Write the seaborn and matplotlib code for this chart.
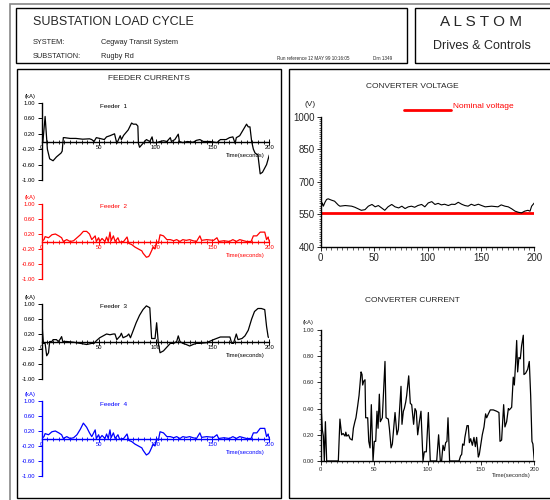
import numpy as np
import pandas as pd
import matplotlib
matplotlib.use("Agg")
import matplotlib.pyplot as plt
from matplotlib.patches import Rectangle
from matplotlib.lines import Line2D
import seaborn as sns

# ---------------- data ----------------
feeder1_t = [0, 1, 3, 5, 7, 10, 13, 17, 18, 19,
             20, 25, 30, 36, 42, 44, 46, 48, 51, 55,
             57, 60, 64, 66, 69, 70, 72, 76, 79, 80.5,
             83, 84.5, 85, 86, 89, 92, 95, 97, 98, 101,
             104, 107, 110, 113, 114, 117, 120, 121, 124, 128,
             133, 136, 139, 142, 148, 154, 157, 162, 165, 168,
             170, 171, 174, 177, 180, 181.5, 183, 184.5, 186, 187.5,
             190, 192, 194, 197.6, 200]
feeder1_v = [0.0, -0.02, 0.65, -0.2, -0.45, -0.5, -0.4, -0.3, -0.25, 0.1,
             0.1, 0.08, 0.08, 0.06, 0.07, 0.05, 0.0, 0.1, 0.08, 0.05,
             0.12, 0.15, 0.2, -0.05, 0.15, 0.05, 0.16, 0.3, 0.48, 0.45,
             0.45, 0.4, -0.05, -0.15, -0.05, 0.05, 0.0, 0.12, -0.03, -0.03,
             0.0, 0.02, 0.0, 0.1, 0.0, 0.05, 0.19, 0.0, -0.03, 0.0,
             -0.02, 0.03, 0.05, 0.0, 0.0, -0.03, 0.05, 0.05, 0.1, 0.12,
             -0.05, 0.1, 0.15, 0.3, 0.45, 0.38, 0.38, 0.0, -0.2, -0.3,
             -0.35, -0.84, -0.8, -0.6, -0.35]

feeder2_t = [0, 2, 3, 6, 9, 12, 15, 17.5, 19, 22,
             25, 28, 31, 34, 36.6, 39.5, 42, 44, 47, 48,
             50, 51, 53, 55.6, 57, 58.5, 60, 61, 63, 64.5,
             67, 68.5, 72, 75, 76.5, 79, 82, 85, 88, 89,
             92, 94, 95, 96.5, 98, 99.5, 101, 102.5, 104, 107,
             110, 113, 116, 118.6, 121.5, 124, 127, 130, 133, 136,
             139, 140.5, 145, 151, 154, 155.5, 160, 165, 168, 171,
             174, 180, 184, 186, 189, 192, 196, 197.6, 199, 200]
feeder2_v = [0.0, 0.05, 0.13, 0.1, 0.18, 0.2, 0.15, 0.1, 0.0, 0.05,
             0.0, 0.02, 0.1, 0.18, 0.27, 0.27, 0.2, 0.05, 0.15, 0.0,
             0.1, 0.0, 0.08, 0.0, 0.12, 0.0, 0.25, 0.02, 0.15, 0.0,
             0.1, -0.02, 0.0, 0.12, -0.05, -0.08, -0.15, -0.2, -0.25, -0.31,
             -0.42, -0.4, -0.35, -0.25, -0.15, -0.2, 0.0, -0.05, 0.18, 0.15,
             0.05, 0.05, 0.02, 0.05, 0.0, 0.05, 0.03, 0.05, 0.02, 0.0,
             0.15, 0.03, 0.05, 0.03, 0.1, 0.0, 0.02, 0.0, 0.05, 0.0,
             0.05, 0.0, 0.0, 0.15, 0.15, 0.25, 0.25, 0.05, 0.12, 0.0]

feeder3_t = [0, 1.5, 3, 4.4, 6, 7, 9, 10, 13, 14.5,
             16, 17.5, 18.5, 22, 28, 34, 39.5, 44, 46, 48,
             51, 54, 57, 60, 63, 64.4, 66, 69, 70, 71.5,
             75, 76.5, 78, 80.5, 83, 86, 89, 92, 95, 96.6,
             99.6, 101, 102.5, 104, 107, 110, 113, 116, 118.6, 120,
             121.5, 124, 127, 130, 133, 136, 139, 145, 151, 157,
             162.5, 165.4, 167, 168.5, 170, 171, 172.5, 176, 178.6, 181.5,
             184.5, 187, 190, 193, 196, 197.6, 199, 200]
feeder3_v = [0.58, -0.05, -0.05, -0.38, -0.3, 0.0, 0.0, 0.05, 0.05, 0.0,
             0.05, 0.13, 0.0, 0.0, -0.02, -0.05, -0.08, -0.05, -0.05, 0.02,
             0.1, 0.15, 0.2, 0.18, 0.2, 0.2, 0.05, 0.15, 0.22, 0.1,
             0.15, 0.2, 0.1, 0.3, 0.5, 0.7, 0.85, 0.95, 0.9, 0.08,
             0.08, 0.5, -0.05, -0.3, -0.25, -0.15, -0.05, -0.05, 0.0, 0.15,
             0.0, -0.05, -0.08, -0.12, -0.08, -0.05, -0.05, -0.03, 0.05, 0.12,
             0.12, 0.12, -0.05, -0.05, 0.1, 0.2, 0.05, 0.08, 0.15, 0.3,
             0.6, 0.8, 0.88, 0.88, 0.85, 0.4, 0.12, 0.1]

feeder4_t = [0, 2, 3, 6, 9, 12, 15, 17.5, 19, 22,
             25, 28, 31, 34, 36.6, 39.5, 42, 44, 47, 48,
             50, 51, 53, 55.6, 57, 58.5, 60, 61, 63, 64.5,
             67, 68.5, 72, 75, 76.5, 79, 82, 85, 88, 89,
             92, 94, 95, 96.5, 98, 99.5, 101, 102.5, 104, 107,
             110, 113, 116, 118.6, 121.5, 124, 127, 130, 133, 136,
             139, 140.5, 145, 151, 154, 155.5, 160, 165, 168, 171,
             174, 180, 184, 186, 189, 192, 196, 197.6, 199, 200]
feeder4_v = [0.0, 0.05, 0.13, 0.1, 0.18, 0.2, 0.15, 0.1, 0.0, 0.05,
             0.0, 0.02, 0.1, 0.25, 0.41, 0.3, 0.15, 0.05, 0.23, 0.0,
             0.1, 0.0, 0.08, 0.0, 0.12, 0.0, 0.23, 0.02, 0.15, 0.0,
             0.1, -0.02, 0.0, 0.12, -0.05, -0.08, -0.15, -0.2, -0.25, -0.31,
             -0.44, -0.4, -0.35, -0.25, -0.15, -0.2, 0.0, -0.05, 0.18, 0.15,
             0.05, 0.05, 0.02, 0.05, 0.0, 0.05, 0.03, 0.05, 0.02, 0.0,
             0.15, 0.03, 0.05, 0.03, 0.1, 0.0, 0.02, 0.0, 0.05, 0.0,
             0.05, 0.0, 0.0, 0.15, 0.15, 0.27, 0.27, 0.05, 0.12, 0.0]

voltage_t = [0, 1.5, 2.5, 4, 5.5, 7, 10, 13, 16.5, 18,
             23, 29, 32, 35, 38, 41.5, 44.6, 48, 51, 54,
             57, 60, 63, 66.5, 69.6, 73, 76, 79, 82, 85,
             88, 91, 94.5, 97.5, 100.7, 104, 107, 110, 113, 116,
             119.5, 122.6, 125.7, 128.8, 132, 135, 138, 141, 144, 147.6,
             150.7, 154, 160, 166, 169, 172.5, 175.6, 178.8, 182, 185,
             188, 191, 194, 196, 197.5, 200]
voltage_v = [571, 602, 587, 605, 618, 621, 615, 610, 592, 587,
             590, 587, 582, 575, 568, 571, 587, 595, 584, 590,
             579, 568, 584, 595, 584, 579, 587, 576, 584, 587,
             582, 590, 595, 584, 602, 608, 595, 600, 593, 596,
             590, 596, 595, 605, 596, 590, 587, 596, 590, 596,
             590, 584, 587, 584, 593, 587, 584, 575, 564, 559,
             556, 564, 568, 564, 587, 602]
nominal_voltage = 556

current_t = [0, 1.5, 2.5, 3.4, 4.4, 5.6, 16.5, 18, 19.6, 21,
             22.8, 23.5, 24.4, 26, 27.5, 29.5, 30.6, 32, 33, 34.6,
             35.9, 37.8, 38.7, 39.3, 40.3, 41.5, 42.1, 44, 45, 46.2,
             47.4, 49, 50.2, 51.5, 52.7, 53.7, 54.9, 55.8, 57.7, 60.2,
             61.2, 63.3, 64.3, 65.9, 67.1, 69.6, 71.4, 72.7, 75.2, 76.1,
             77.4, 78.3, 79.6, 80.5, 82.4, 83.9, 85.2, 87, 88.3, 89.5,
             90.8, 92.4, 93.9, 95.8, 97, 98.9, 100.8, 102.6, 108.6, 110.4,
             112, 113.2, 114.5, 115.8, 117, 118.2, 119.2, 120.7, 129.5, 131,
             132, 132.9, 134.2, 135, 137, 138.2, 139.2, 140.4, 142, 143.5,
             144.8, 146, 147.6, 148.5, 149.8, 151.3, 152.9, 154.4, 155.4, 157,
             158.8, 161.6, 164.7, 166.9, 167.9, 169.4, 171.3, 172.5, 174.1, 175.7,
             176.6, 178.8, 180.3, 181.3, 182.5, 183.5, 184.4, 185.6, 186.9, 188.1,
             189.7, 190.3, 191.9, 193.8, 195.3, 196.6, 197.8, 198.7, 200]
current_v = [0.48, 0.24, 0.19, 0.0, 0.30, 0.0, 0.0, 0.32, 0.20, 0.21,
             0.19, 0.22, 0.19, 0.20, 0.17, 0.16, 0.25, 0.30, 0.33, 0.42,
             0.50, 0.68, 0.66, 0.58, 0.61, 0.62, 0.33, 0.33, 0.15, 0.10,
             0.43, 0.0, 0.15, 0.15, 0.38, 0.25, 0.51, 0.30, 0.33, 0.76,
             0.33, 0.32, 0.25, 0.10, 0.13, 0.37, 0.20, 0.24, 0.57, 0.28,
             0.38, 0.40, 0.45, 0.50, 0.65, 0.44, 0.43, 0.28, 0.40, 0.38,
             0.20, 0.30, 0.38, 0.0, 0.07, 0.07, 0.37, 0.0, 0.0, 0.20,
             0.0, 0.0, 0.12, 0.08, 0.14, 0.15, 0.33, 0.0, 0.0, 0.04,
             0.05, 0.13, 0.12, 0.18, 0.27, 0.27, 0.14, 0.17, 0.12, 0.18,
             0.11, 0.18, 0.03, 0.05, 0.12, 0.20, 0.26, 0.36, 0.33, 0.36,
             0.39, 0.39, 0.38, 0.37, 0.15, 0.16, 0.43, 0.26, 0.30, 0.40,
             0.39, 0.41, 0.64, 0.58, 0.75, 0.92, 0.68, 0.79, 0.78, 0.88,
             0.96, 0.66, 0.67, 0.70, 0.76, 0.50, 0.15, 0.13, 0.0]

feeder_yticks = [-1.0, -0.6, -0.2, 0.2, 0.6, 1.0]
time_ticks = [0, 50, 100, 150, 200]
voltage_ticks = [400, 550, 700, 850, 1000]
current_ticks = [0.0, 0.2, 0.4, 0.6, 0.8, 1.0]

# ---------------- style ----------------
sns.set_style("white")
plt.rcParams['font.family'] = ['Liberation Sans', 'DejaVu Sans']
plt.rcParams['axes.unicode_minus'] = False

W, H = 550, 500
fig = plt.figure(figsize=(5.5, 5.0), dpi=100)
fig.patch.set_facecolor('white')


def fx(x):
    return x / W


def fy(y):
    return 1 - y / H


def add_box(x0, y0, x1, y1, color='black', lw=1.0):
    fig.add_artist(Rectangle((fx(x0), fy(y1)), fx(x1) - fx(x0), fy(y0) - fy(y1),
                             transform=fig.transFigure, fill=False,
                             edgecolor=color, linewidth=lw))


def add_axes_px(x0, x1, ytop, ybot):
    return fig.add_axes([fx(x0), fy(ybot), fx(x1) - fx(x0), fy(ytop) - fy(ybot)])


def ftext(x, y, s, **kw):
    fig.text(fx(x), fy(y), s, transform=fig.transFigure, **kw)


# frames
add_box(10, 4, 560, 510, color='#888888', lw=1.2)
add_box(16, 8, 407, 63)
add_box(415, 8, 560, 63)
add_box(17, 69, 281, 498)
add_box(289, 69, 560, 498)

# header text
ftext(33, 22, 'SUBSTATION LOAD CYCLE', fontsize=9, va='center', ha='left')
ftext(33, 43, 'SYSTEM:', fontsize=5.3, va='center', ha='left')
ftext(101, 43, 'Cegway Transit System', fontsize=5.3, va='center', ha='left')
ftext(33, 57, 'SUBSTATION:', fontsize=5.3, va='center', ha='left')
ftext(101, 57, 'Rugby Rd', fontsize=5.3, va='center', ha='left')
ftext(277, 59, 'Run reference 12 MAY 99 10:16:05', fontsize=3.3, va='center', ha='left')
ftext(373, 59, 'Drn 1349', fontsize=3.3, va='center', ha='left')
ftext(481, 22, 'A L S T O M', fontsize=11, va='center', ha='center')
ftext(482, 46, 'Drives & Controls', fontsize=9, va='center', ha='center')

ftext(149, 78, 'FEEDER CURRENTS', fontsize=6, va='center', ha='center')
ftext(412, 87, 'CONVERTER VOLTAGE', fontsize=6, va='center', ha='center')
ftext(412, 301, 'CONVERTER CURRENT', fontsize=6, va='center', ha='center')

# ---------------- feeder panels ----------------
feeders = [
    ('Feeder  1', feeder1_t, feeder1_v, 'black', 103, 180),
    ('Feeder  2', feeder2_t, feeder2_v, '#ff0000', 204, 279),
    ('Feeder  3', feeder3_t, feeder3_v, 'black', 304, 379),
    ('Feeder  4', feeder4_t, feeder4_v, '#0000ff', 401, 476),
]

for name, t, v, col, ytop, ybot in feeders:
    ax = add_axes_px(41.7, 269.3, ytop, ybot)
    df = pd.DataFrame({'t': t, 'v': v})
    sns.lineplot(data=df, x='t', y='v', ax=ax, color=col, linewidth=0.9,
                 estimator=None, sort=False)
    ax.set_xlim(0, 200)
    ax.set_ylim(-1, 1)
    ax.set_facecolor('none')
    ax.set_xlabel('')
    ax.set_ylabel('')
    for s in ['top', 'right']:
        ax.spines[s].set_visible(False)
    ax.spines['left'].set_position(('data', 0))
    ax.spines['bottom'].set_position(('data', 0))
    for s in ['left', 'bottom']:
        ax.spines[s].set_color(col)
        ax.spines[s].set_linewidth(1.0)
    ax.set_xticks(time_ticks)
    ax.set_xticks(np.arange(0, 201, 5), minor=True)
    ax.set_yticks(feeder_yticks)
    ax.yaxis.set_major_formatter('{x:.2f}')
    ax.tick_params(axis='x', which='major', direction='inout', length=4, width=0.7,
                   labelsize=4.2, pad=0.5, colors=col, bottom=True)
    ax.tick_params(axis='x', which='minor', direction='inout', length=2.5, width=0.6,
                   colors=col, bottom=True)
    ax.tick_params(axis='y', which='major', direction='out', length=3, width=0.7,
                   labelsize=4.2, pad=2, colors=col, left=True)
    ax.text(-10, 1.17, '(kA)', fontsize=4.2, color=col, ha='center', va='center')
    ax.text(51, 0.92, name, fontsize=4.6, color=col, ha='left', va='center')
    ax.text(196, -0.37, 'Time(seconds)', fontsize=4.2, color=col, ha='right', va='center')

# ---------------- converter voltage ----------------
axv = add_axes_px(320.7, 534.3, 116.7, 246.7)
dfv = pd.DataFrame({'t': voltage_t, 'v': voltage_v})
axv.axhline(nominal_voltage, color='#ff0000', linewidth=2.0, zorder=1)
sns.lineplot(data=dfv, x='t', y='v', ax=axv, color='black', linewidth=0.8,
             estimator=None, sort=False, zorder=2)
axv.set_xlim(0, 200)
axv.set_ylim(400, 1000)
axv.set_facecolor('none')
axv.set_xlabel('')
axv.set_ylabel('')
for s in ['top', 'right']:
    axv.spines[s].set_visible(False)
for s in ['left', 'bottom']:
    axv.spines[s].set_color('black')
    axv.spines[s].set_linewidth(1.0)
axv.set_xticks(time_ticks)
axv.set_xticks(np.arange(0, 201, 5), minor=True)
axv.set_yticks(voltage_ticks)
axv.set_yticks(np.arange(400, 1001, 10), minor=True)
axv.tick_params(axis='both', which='major', direction='out', length=3, width=0.7,
                labelsize=7, pad=1.5, bottom=True, left=True)
axv.tick_params(axis='both', which='minor', direction='out', length=1.8, width=0.5,
                bottom=True, left=True)
axv.text(-10, 1058, '(V)', fontsize=6, ha='center', va='center')
# legend
fig.add_artist(Line2D([fx(404), fx(451)], [fy(109.5), fy(109.5)], transform=fig.transFigure,
                      color='#ff0000', linewidth=2.0))
ftext(453, 106.5, 'Nominal voltage', fontsize=6, color='#ff0000', ha='left', va='center')

# ---------------- converter current ----------------
axc = add_axes_px(320.7, 534.3, 330, 461)
dfc = pd.DataFrame({'t': current_t, 'v': current_v})
sns.lineplot(data=dfc, x='t', y='v', ax=axc, color='black', linewidth=0.9,
             estimator=None, sort=False)
axc.set_xlim(0, 200)
axc.set_ylim(0, 1)
axc.set_facecolor('none')
axc.set_xlabel('')
axc.set_ylabel('')
for s in ['top', 'right']:
    axc.spines[s].set_visible(False)
for s in ['left', 'bottom']:
    axc.spines[s].set_color('black')
    axc.spines[s].set_linewidth(1.0)
axc.set_xticks(time_ticks)
axc.set_xticks(np.arange(0, 201, 5), minor=True)
axc.set_yticks(current_ticks)
axc.set_yticks(np.arange(0, 1.001, 0.04), minor=True)
axc.yaxis.set_major_formatter('{x:.2f}')
axc.tick_params(axis='both', which='major', direction='out', length=3, width=0.7,
                labelsize=4.2, pad=1.5, bottom=True, left=True)
axc.tick_params(axis='both', which='minor', direction='out', length=1.5, width=0.5,
                bottom=True, left=True)
axc.text(-12, 1.06, '(kA)', fontsize=4.2, ha='center', va='center')
axc.text(178, -0.11, 'Time(seconds)', fontsize=4.2, ha='center', va='center')

fig.savefig('out.png', dpi=100, facecolor='white')
